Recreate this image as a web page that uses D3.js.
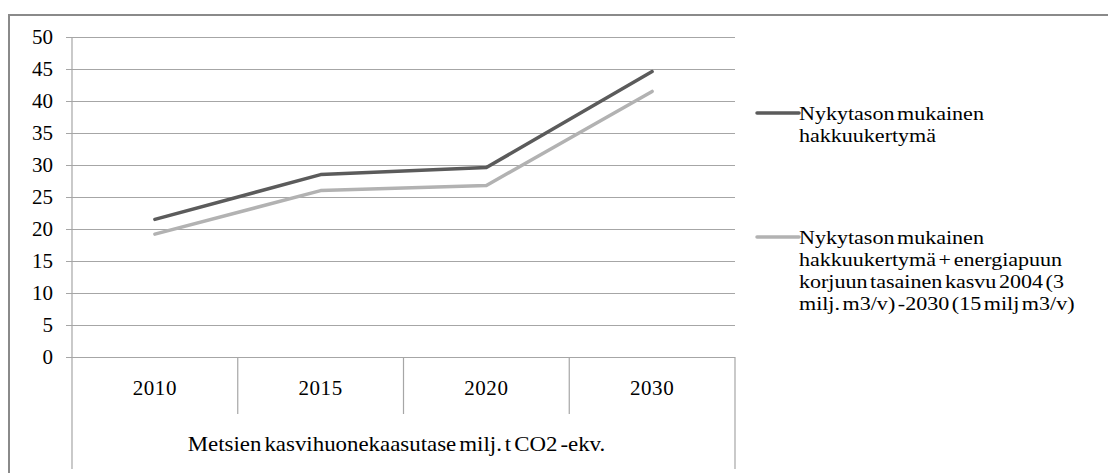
<!DOCTYPE html>
<html>
<head>
<meta charset="utf-8">
<script src="https://cdn.jsdelivr.net/npm/d3@7"></script>
<style>
  html, body { margin: 0; padding: 0; background: #fff; }
  svg { display: block; }
  svg text { font-family: "Liberation Serif", "Times New Roman", serif; fill: #000; }
</style>
</head>
<body>
<svg id="chart" width="1108" height="473"></svg>
<script>
// Forest greenhouse gas balance scenarios (milj. t CO2 -ekv.)
const years = ["2010", "2015", "2020", "2030"];
const currentHarvest = [21.5, 28.5, 29.6, 44.6];
const harvestPlusEnergyWood = [19.2, 26.0, 26.8, 41.5];
const yTicks = [0, 5, 10, 15, 20, 25, 30, 35, 40, 45, 50];
const axisTitle = "Metsien kasvihuonekaasutase milj. t CO2 -ekv.";
const seriesNames = [
  ["Nykytason mukainen", "hakkuukertymä"],
  ["Nykytason mukainen", "hakkuukertymä + energiapuun", "korjuun tasainen kasvu 2004 (3", "milj. m3/v) -2030 (15 milj m3/v)"]
];
const seriesColors = ["#5b5b5b", "#b2b2b2"];

const svg = d3.select("#chart");
const plot = { left: 72, right: 735, top: 37, bottom: 357 };
const fontSize = "21px";

// Outer frame (top and left edges)
svg.append("path")
  .attr("d", "M9,473 V15 H1108")
  .attr("fill", "none").attr("stroke", "#8a8a8a").attr("stroke-width", 2);

const x = d3.scaleBand().domain(years).range([plot.left, plot.right]);
const y = d3.scaleLinear().domain([0, 50]).range([plot.bottom, plot.top]);

// Horizontal gridlines and value labels
const yAxis = d3.axisLeft(y).tickValues(yTicks).tickSize(-(plot.right - plot.left)).tickPadding(19);
const gy = svg.append("g").attr("transform", `translate(${plot.left},0)`).call(yAxis);
gy.attr("font-family", null).attr("font-size", null);
gy.select(".domain").remove();
gy.selectAll(".tick line").attr("stroke", "#a6a6a6").attr("stroke-width", 1.2).attr("x1", -6);
gy.selectAll(".tick text").style("font-size", fontSize).attr("fill", "#000").attr("dy", "0.32em");

// Vertical value axis line
svg.append("line").attr("x1", plot.left).attr("x2", plot.left)
  .attr("y1", plot.top).attr("y2", plot.bottom).attr("stroke", "#a6a6a6").attr("stroke-width", 1.2);

// Category axis: inner dividers between years, outer frame down to the title row
const catBottom = 414, titleBottom = 469;
const bounds = years.map(d => x(d)).concat([plot.right]);
bounds.forEach((bx, i) => {
  const outer = i === 0 || i === bounds.length - 1;
  svg.append("line").attr("x1", bx).attr("x2", bx)
    .attr("y1", plot.bottom).attr("y2", outer ? titleBottom : catBottom)
    .attr("stroke", "#a6a6a6").attr("stroke-width", 1.2);
});
svg.selectAll(".cat").data(years).enter().append("text")
  .attr("x", d => x(d) + x.bandwidth() / 2).attr("y", 388)
  .attr("text-anchor", "middle").attr("dy", "0.35em")
  .style("font-size", fontSize).style("letter-spacing", "0.6px").text(d => d);
svg.append("text")
  .attr("transform", `translate(${(plot.left + plot.right) / 2 - 7},444) scale(1.09,1)`)
  .attr("text-anchor", "middle").attr("dy", "0.35em").style("font-size", fontSize)
  .style("word-spacing", "-2.5px").text(axisTitle);

// Series lines
const line = d3.line().x((d, i) => x(years[i]) + x.bandwidth() / 2).y(d => y(d));
[currentHarvest, harvestPlusEnergyWood].forEach((vals, i) => {
  svg.append("path").datum(vals).attr("d", line)
    .attr("fill", "none").attr("stroke", seriesColors[i])
    .attr("stroke-width", 3.5).attr("stroke-linecap", "round").attr("stroke-linejoin", "round");
});

// Legend: wide serif text, one entry per series
const legendY = [113, 237];
seriesNames.forEach((lines, i) => {
  const g = svg.append("g").attr("transform", `translate(757,${legendY[i]})`);
  g.append("line").attr("x1", 0).attr("x2", 42).attr("y1", 0).attr("y2", 0)
    .attr("stroke", seriesColors[i]).attr("stroke-width", 3.5).attr("stroke-linecap", "round");
  g.selectAll("text").data(lines).enter().append("text")
    .attr("transform", (d, j) => `translate(42,${j * 22}) scale(1.16,1)`)
    .attr("dy", "0.35em")
    .style("font-size", "19px").style("word-spacing", "-2.5px").text(d => d);
});
</script>
</body>
</html>
